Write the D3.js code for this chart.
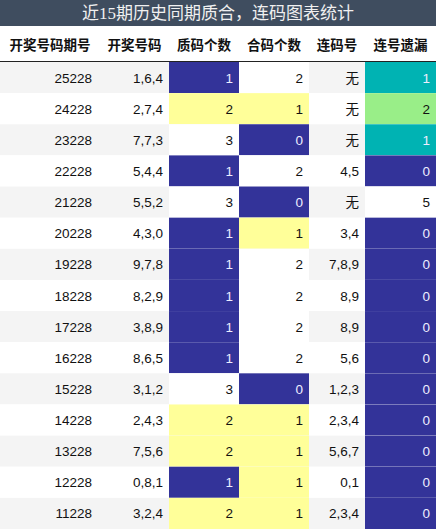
<!DOCTYPE html><html><head><meta charset="utf-8"><script src="https://cdn.jsdelivr.net/npm/d3@7"></script>
<style>body{margin:0}svg{display:block}</style></head><body><svg id="c" width="436" height="529"></svg><script>
const headers=["开奖号码期号","开奖号码","质码个数","合码个数","连码号","连号遗漏"];
const periods=["25228","24228","23228","22228","21228","20228","19228","18228","17228","16228","15228","14228","13228","12228","11228"];
const draws=["1,6,4","2,7,4","7,7,3","5,4,4","5,5,2","4,3,0","9,7,8","8,2,9","3,8,9","8,6,5","3,1,2","2,4,3","7,5,6","0,8,1","3,2,4"];
const primeCount=[1,2,3,1,3,1,1,1,1,1,3,2,2,1,2];
const compCount=[2,1,0,2,0,1,2,2,2,2,0,1,1,1,1];
const consec=["无","无","无","4,5","无","3,4","7,8,9","8,9","8,9","5,6","1,2,3","2,3,4","5,6,7","0,1","2,3,4"];
const missing=[1,2,1,0,5,0,0,0,0,0,0,0,0,0,0];
const svg=d3.select("#c");
const W=436,H=529;
const edges=[0,100,169,239,309,365,436];
const NAVY="#333399",YEL="#ffff99",TEAL="#00b3b3",GRN="#99ee88";
svg.append("rect").attr("width",W).attr("height",26).attr("fill","#3f4d5f");
svg.append("text").attr("x",W/2).attr("y",19).attr("text-anchor","middle").attr("fill","#f0f0f0")
 .attr("font-family","Liberation Serif, Noto Sans CJK SC").attr("font-size",17).text("近15期历史同期质合，连码图表统计");
headers.forEach((h,i)=>svg.append("text").attr("x",(edges[i]+edges[i+1])/2).attr("y",50).attr("text-anchor","middle")
 .attr("font-family","Noto Sans CJK SC").attr("font-weight","bold").attr("font-size",13.5).attr("fill","#111").text(h));
svg.append("line").attr("x1",0).attr("x2",W).attr("y1",61.5).attr("y2",61.5).attr("stroke","#222").attr("stroke-width",1);
const y=d3.scaleBand().domain(d3.range(periods.length)).range([62,H]);
const cellColor=(c,i)=>{
 if(c===2)return primeCount[i]===1?NAVY:primeCount[i]===2?YEL:null;
 if(c===3)return compCount[i]===0?NAVY:compCount[i]===1?YEL:null;
 if(c===5)return missing[i]===0?NAVY:missing[i]===1?TEAL:missing[i]===2?GRN:null;
 return null;};
const vals=(c,i)=>[periods,draws,primeCount,compCount,consec,missing][c][i];
periods.forEach((p,i)=>{
 const g=svg.append("g");
 g.append("rect").attr("x",0).attr("y",y(i)).attr("width",W).attr("height",y.bandwidth()).attr("fill",i%2===0?"#f4f4f4":"#fff");
 for(let c=0;c<6;c++){
  const col=cellColor(c,i);
  if(col)g.append("rect").attr("x",edges[c]).attr("y",y(i)).attr("width",edges[c+1]-edges[c]).attr("height",y.bandwidth()).attr("fill",col);
  else if(c>=2&&c!==4)g.append("rect").attr("x",edges[c]).attr("y",y(i)).attr("width",edges[c+1]-edges[c]).attr("height",y.bandwidth()).attr("fill","#fff");
  const light=col===NAVY||col===TEAL;
  g.append("text").attr("x",edges[c+1]-(c===0?8:6)).attr("y",y(i)+y.bandwidth()/2+5).attr("text-anchor","end")
   .attr("font-family","Liberation Sans, Noto Sans CJK SC").attr("font-size",13.5).attr("fill",light?"#eef":"#111").text(vals(c,i));
 }
});
</script></body></html>
